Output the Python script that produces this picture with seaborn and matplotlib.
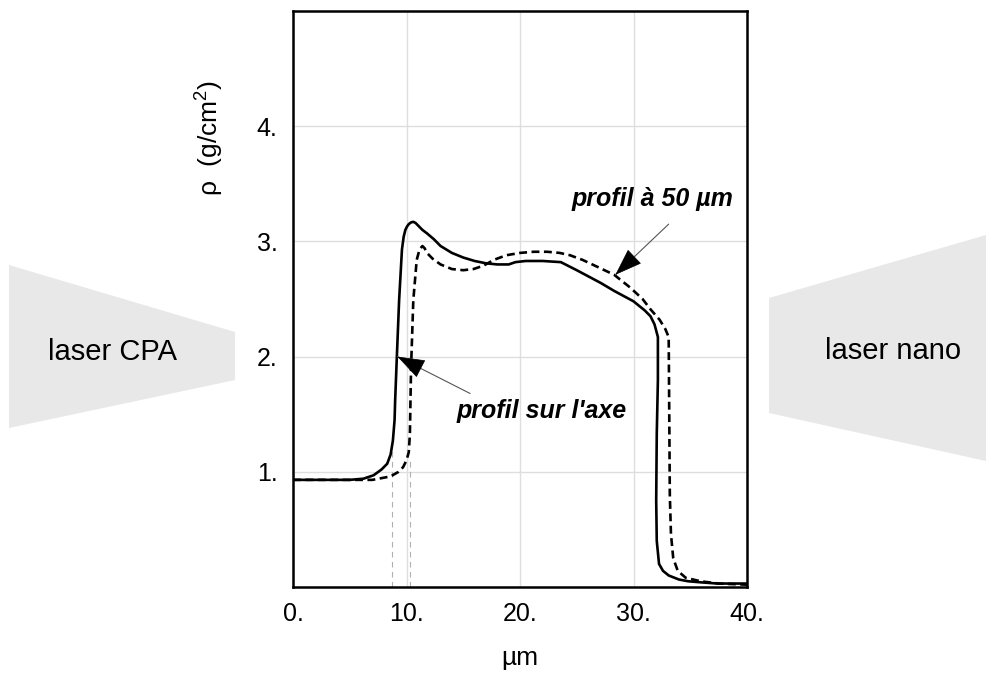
import pandas as pd
import seaborn as sns
import matplotlib.pyplot as plt
from matplotlib.patches import Polygon

# profil sur l'axe (trait plein)
x_axe = [0, 3, 5, 6.2, 7.1, 7.8, 8.3, 8.6, 8.8, 8.95, 9.0, 9.15, 9.35, 9.6, 9.75,
         9.9, 10.05, 10.2, 10.4, 10.6, 10.8, 11.0, 11.4, 11.8, 12.4, 13.0, 14.0, 15.0,
         16.0, 17.0, 18.0, 19.0, 19.6, 20.5, 22.0, 23.6, 25.0, 27.1, 28.3, 30.0, 31.0,
         31.5, 31.85, 32.15, 32.15, 32.05, 32.0, 32.05, 32.25, 32.6, 33.1, 34.0, 34.8,
         36.0, 37.4, 40.0]
y_axe = [0.93, 0.93, 0.93, 0.94, 0.97, 1.02, 1.07, 1.15, 1.27, 1.45, 1.62, 2.0, 2.49, 2.93, 3.04,
         3.10, 3.13, 3.15, 3.165, 3.17, 3.16, 3.14, 3.10, 3.07, 3.02, 2.96, 2.90, 2.86,
         2.83, 2.81, 2.80, 2.80, 2.82, 2.83, 2.83, 2.82, 2.75, 2.64, 2.57, 2.48, 2.40,
         2.35, 2.28, 2.17, 1.80, 1.33, 0.75, 0.40, 0.20, 0.14, 0.10, 0.065, 0.05,
         0.04, 0.03, 0.03]

# profil a 50 um (tirets)
x_50 = [0, 5, 7.0, 8.6, 9.3, 9.7, 10.0, 10.2, 10.3, 10.4, 10.6, 10.9, 11.15, 11.4,
        11.6, 11.8, 12.3, 13.0, 14.0, 15.0, 15.9, 16.8, 17.7, 18.8, 20.0, 21.2, 22.4, 23.5,
        24.4, 25.5, 26.8, 28.3, 29.7, 30.8, 31.5, 32.3, 32.8, 33.1, 33.15, 33.2, 33.3, 33.5,
        33.9, 34.6, 35.9, 37.5, 40.0]
y_50 = [0.93, 0.93, 0.93, 0.96, 1.0, 1.04, 1.10, 1.17, 1.33, 1.90, 2.49, 2.84, 2.93, 2.96,
        2.94, 2.90, 2.85, 2.80, 2.76, 2.75, 2.76, 2.79, 2.84, 2.88, 2.90, 2.91, 2.91, 2.90,
        2.88, 2.84, 2.78, 2.71, 2.60, 2.50, 2.41, 2.32, 2.24, 2.17, 1.50, 0.80, 0.46, 0.25,
        0.14, 0.08, 0.05, 0.03, 0.02]

# repères verticaux
guide_x = [8.7, 10.3]
guide_top = [1.2, 1.1]

x_ticks = [0, 10, 20, 30, 40]
x_ticklabels = ["0.", "10.", "20.", "30.", "40."]
y_ticks = [1, 2, 3, 4]
y_ticklabels = ["1.", "2.", "3.", "4."]

sns.set_style("white")
plt.rcParams['font.family'] = ['Liberation Sans', 'DejaVu Sans']
plt.rcParams['text.color'] = 'black'
plt.rcParams['axes.labelcolor'] = 'black'

W, H = 986, 675
fig = plt.figure(figsize=(W / 100, H / 100), dpi=100)

# faisceaux laser (pixels de la figure)
laser_cpa = [(9, 265), (235, 332), (235, 380), (9, 428)]
laser_nano = [(769, 298), (986, 235), (986, 461), (769, 413)]
for pts in (laser_cpa, laser_nano):
    verts = [(px / W, 1 - py / H) for px, py in pts]
    fig.add_artist(Polygon(verts, closed=True, transform=fig.transFigure,
                           facecolor="#e8e8e8", edgecolor="none", zorder=0))
fig.text(112 / W, 1 - 352 / H, "laser CPA", ha="center", va="center", fontsize=21)
fig.text(893 / W, 1 - 351 / H, "laser nano", ha="center", va="center", fontsize=21)

ax = fig.add_axes([293 / W, 1 - 587 / H, 454 / W, 576 / H])

df_axe = pd.DataFrame({"x": x_axe, "rho": y_axe})
df_50 = pd.DataFrame({"x": x_50, "rho": y_50})
sns.lineplot(data=df_axe, x="x", y="rho", sort=False, estimator=None,
             color="black", lw=1.9, ax=ax, zorder=3)
sns.lineplot(data=df_50, x="x", y="rho", sort=False, estimator=None,
             color="black", lw=1.9, ls=(0, (3.0, 1.7)), ax=ax, zorder=3)

for gx, gt in zip(guide_x, guide_top):
    ax.plot([gx, gx], [0, gt], color="#b0b0b0", lw=0.8, ls=(0, (5, 4)), zorder=2)

ax.set_xlim(0, 40)
ax.set_ylim(0, 5)
ax.set_xticks(x_ticks)
ax.set_xticklabels(x_ticklabels)
ax.set_yticks(y_ticks)
ax.set_yticklabels(y_ticklabels)
ax.tick_params(axis="both", direction="in", length=10, width=1.6, labelsize=18, colors="black")
ax.tick_params(axis="x", pad=11)
ax.tick_params(axis="y", pad=11)
ax.grid(True, color="#dedede", lw=1)
for s in ax.spines.values():
    s.set_color("black")
    s.set_linewidth(1.8)

ax.set_xlabel("µm", fontsize=19, labelpad=14)
ax.set_ylabel("")
ax.text(-0.183, 0.78, "ρ  (g/$\\mathregular{cm^2}$)", transform=ax.transAxes,
        rotation=90, ha="center", va="center", fontsize=19)

# annotations
ax.text(31.7, 3.37, "profil à 50 µm", fontsize=18, fontweight="bold", fontstyle="italic",
        ha="center", va="center")
ax.text(21.9, 1.53, "profil sur l'axe", fontsize=18, fontweight="bold", fontstyle="italic",
        ha="center", va="center")

arrows = [((33.1, 3.15), (28.4, 2.71), (30.0, 2.86)),
          ((15.6, 1.68), (9.2, 2.0), (11.16, 1.90))]
for tail, tip, base in arrows:
    ax.annotate("", xy=tip, xytext=tail,
                arrowprops=dict(arrowstyle="-", color="#555555", lw=0.8,
                                shrinkA=0, shrinkB=0))
    ax.annotate("", xy=tip, xytext=base,
                arrowprops=dict(arrowstyle="-|>,head_length=0.9,head_width=0.32",
                                color="black", lw=0.5, mutation_scale=20,
                                shrinkA=0, shrinkB=0))

fig.savefig("out.png", dpi=100)
